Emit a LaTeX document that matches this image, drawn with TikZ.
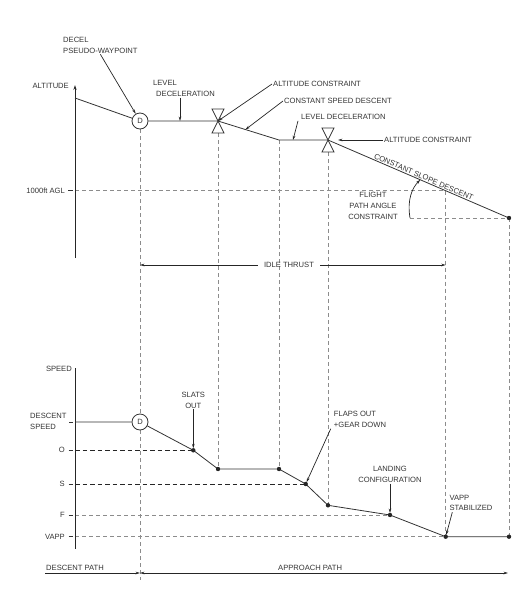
\documentclass[tikz,border=0pt]{standalone}
\usepackage{fontspec}
\setmainfont{Liberation Sans}
\usetikzlibrary{positioning,calc,arrows.meta}

\begin{document}
\begin{tikzpicture}[x=1pt,y=-1pt,
  every node/.style={font=\fontsize{7.6}{10.8}\selectfont,text=black!80,inner sep=1pt},
  prof/.style={draw=black!80,line width=0.8pt},
  axis/.style={draw=black!85,line width=1pt},
  guide/.style={draw=black!45,line width=0.8pt,dash pattern=on 4pt off 3pt},
  level/.style={draw=black!85,line width=0.9pt,dash pattern=on 4.5pt off 3pt},
  callout/.style={draw=black!85,line width=0.7pt,-{Stealth[length=4.5pt,width=2.6pt]}},
  span/.style={callout,{Stealth[length=4.5pt,width=2.6pt]}-{Stealth[length=4.5pt,width=2.6pt]}},
  waypt/.style={circle,draw=black!80,line width=0.8pt,fill=white,minimum size=16pt,inner sep=0pt}]
  \useasboundingbox (0,0) rectangle (530,592);

  \coordinate (a0) at (75,98);
  \coordinate (b1) at (218,121);
  \coordinate (c1) at (279,140);
  \coordinate (b2) at (328,140);
  \coordinate (e1) at (509,218);
  \coordinate (f1) at (445.7,190.5);
  \coordinate (s1) at (193.3,450.3);
  \coordinate (s2) at (218,469);
  \coordinate (s3) at (279,469);
  \coordinate (s4) at (305.7,484);
  \coordinate (s5) at (328,505.3);
  \coordinate (s6) at (390,515);
  \coordinate (s7) at (445.7,536.7);
  \coordinate (s8) at (509,536.7);

  \draw[guide] (75,190.5) -- (f1);
  \draw[guide] (140,129) -- (140,580);
  \draw[guide] ($(b1)+(0,12)$) -- (s2);
  \draw[guide] (c1) -- (s3);
  \draw[guide] ($(b2)+(0,12)$) -- (s5);
  \draw[guide] (f1) -- (s7);
  \draw[guide] (e1) -- (s8);
  \coordinate (fp0) at (410,218);
  \draw[guide] (fp0) -- (e1);
  \draw[level] (75,450.3) -- (s1);
  \draw[level] (75,484) -- (s4);
  \draw[guide] (75,515) -- (s6);
  \draw[guide] (75,536.7) -- (s7);

  \draw[axis,-{Stealth[length=5pt,width=3.2pt]}] (75,258) -- (75,85);
  \node[anchor=east] (altlab) at (70,86) {ALTITUDE};
  \node[anchor=east] (agl) at (66,190.5) {1000ft AGL};
  \draw[prof] ([xshift=2pt]agl.east) -- ++(5,0);

  \node[waypt] (D1) at (140,121) {D};
  \draw[prof] (a0) -- (D1) (D1) -- (b1) -- (c1) -- (b2) -- node[pos=0.52,sloped,above] {CONSTANT SLOPE DESCENT} (e1);
  \foreach \b in {b1,b2}
    \draw[prof] ($(\b)+(-6,-12)$) -- ($(\b)+(6,-12)$) -- ($(\b)+(-6,12)$) -- ($(\b)+(6,12)$) -- cycle;
  \fill[black!85] (e1) circle (2.2);

  \node[align=left,anchor=west] (decel) at (62,45) {DECEL\\PSEUDO-WAYPOINT};
  \draw[callout] (decel.south) -- (D1);
  \node[align=left,anchor=west] (lvl1) at (152,88.5) {LEVEL\\\hspace*{3pt}DECELERATION};
  \coordinate (l1) at (180,121);
  \draw[callout] (l1 |- lvl1.south) -- (l1);
  \node[anchor=west] (altc1) at (272,84) {ALTITUDE CONSTRAINT};
  \draw[callout] (altc1.west) -- (b1);
  \node[anchor=west] (csd) at (283,101) {CONSTANT SPEED DESCENT};
  \coordinate (l2) at ($(b1)!0.45!(c1)$);
  \draw[callout] (csd.west) -- (l2);
  \node[anchor=west] (lvl2) at (300,117) {LEVEL DECELERATION};
  \coordinate (l3) at (293,140);
  \draw[callout] ([xshift=-2pt]lvl2.south west) -- (l3);
  \node[anchor=west] (altc2) at (383,140) {ALTITUDE CONSTRAINT};
  \coordinate (l4) at (338,140);
  \draw[callout] (altc2.west) -- (l4);
  \node[align=center] (fpa) at (373,206) {FLIGHT\\PATH ANGLE\\CONSTRAINT};
  \coordinate (fp1) at ($(b2)!0.51!(e1)$);
  \draw[callout] (fp0) .. controls (407,200) and (412,188) .. (fp1);

  \node[inner xsep=6pt] (idle) at (289,265) {IDLE THRUST};
  \draw[callout] (idle.west) -- (idle.west -| D1);
  \draw[callout] (idle.east) -- (idle.east -| f1);

  \draw[axis] (75,368) -- (75,549);
  \node[anchor=east] (spd) at (73,369) {SPEED};
  \node[align=left,anchor=west] (dspd) at (29,421.5) {DESCENT\\SPEED};
  \draw[prof] (69,422) -- (73,422);
  \node[anchor=east] (lo) at (66,450.3) {O};
  \node[anchor=east] (ls) at (66,484) {S};
  \node[anchor=east] (lf) at (66,515) {F};
  \node[anchor=east] (lv) at (66,536.7) {VAPP};
  \foreach \n in {lo,ls,lf,lv}
    \draw[prof] ([xshift=2.5pt]\n.east) -- ++(4,0);

  \node[waypt] (D2) at (140,422) {D};
  \draw[prof] (75,422) -- (D2) (D2) -- (s1) -- (s2) -- (s3) -- (s4) -- (s5) -- (s6) -- (s7) -- (s8);
  \foreach \p in {s1,s2,s3,s4,s5,s6,s7,s8}
    \fill[black!85] (\p) circle (2.2);

  \node[align=center] (slats) at (193.3,400) {SLATS\\OUT};
  \draw[callout,shorten >=2pt] (slats.south) -- (s1);
  \node[align=left,anchor=west] (flaps) at (332.7,419.5) {FLAPS OUT\\+GEAR DOWN};
  \draw[callout,shorten >=2pt] ([xshift=-2pt]flaps.south west) -- (s4);
  \node[align=center] (landc) at (390,474.3) {LANDING\\CONFIGURATION};
  \draw[callout,shorten >=2pt] (landc.south) -- (s6);
  \node[align=left,anchor=west] (vstab) at (448.3,503) {VAPP\\STABILIZED};
  \draw[callout,shorten >=2pt] ([xshift=4pt]vstab.south west) -- (s7);

  \coordinate (dp0) at (45,573);
  \coordinate (dp1) at (140,573);
  \coordinate (dp2) at (508,573);
  \draw[callout] (dp0) -- (dp1);
  \draw[span] (dp1) -- (dp2);
  \node[anchor=west] (dpath) at (45,567.7) {DESCENT PATH};
  \node[anchor=west] (apath) at (277,567.7) {APPROACH PATH};
\end{tikzpicture}
\end{document}
